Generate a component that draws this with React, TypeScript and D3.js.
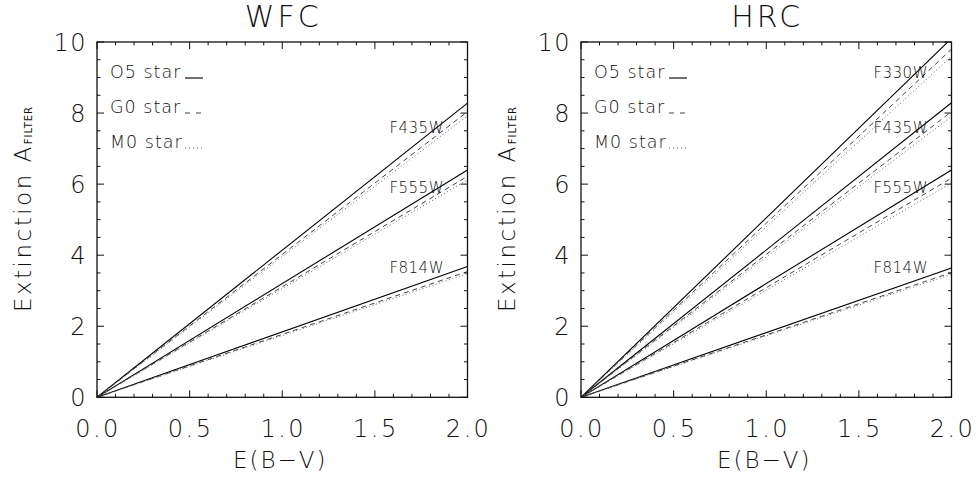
import React from "react";
import * as d3 from "d3";

const ebvRange = [0, 2];
const xTickValues = [0, 0.5, 1.0, 1.5, 2.0];
const yTickValues = [0, 2, 4, 6, 8, 10];

const wfcFilters = ["F435W", "F555W", "F814W"];
const wfcO5 = [8.28, 6.4, 3.68];
const wfcG0 = [8.04, 6.22, 3.54];
const wfcM0 = [7.92, 6.12, 3.48];

const hrcFilters = ["F330W", "F435W", "F555W", "F814W"];
const hrcO5 = [10.1, 8.29, 6.4, 3.64];
const hrcG0 = [9.8, 8.04, 6.17, 3.51];
const hrcM0 = [9.6, 7.9, 6.03, 3.46];

const legendLabels = ["O5 star", "G0 star", "M0 star"];

const FONT = "'DejaVu Sans', sans-serif";
const styles = [
  { stroke: "#000", dash: "none", width: 1.1 },
  { stroke: "#444", dash: "5,4", width: 1 },
  { stroke: "#666", dash: "1,2.5", width: 1 },
];
const labelBaseline = { F330W: 78, F435W: 133, F555W: 193, F814W: 273 };

function Panel({ ox, title, filters, series, id }) {
  const left = ox + 97;
  const right = ox + 467.5;
  const top = 42;
  const bottom = 397.3;
  const x = d3.scaleLinear().domain(ebvRange).range([left, right]);
  const y = d3.scaleLinear().domain([0, 10]).range([bottom, top]);
  const line = d3
    .line()
    .x((d) => x(d[0]))
    .y((d) => y(d[1]));
  const xMinor = d3.range(0, 2.0001, 0.1).filter((v) => Math.abs(v * 2 - Math.round(v * 2)) > 1e-6);
  const yMinor = d3.range(0, 10.0001, 0.5).filter((v) => Math.abs(v / 2 - Math.round(v / 2)) > 1e-6);
  const major = 7;
  const minor = 3.5;
  const axisColor = "#111";
  return (
    <g>
      <defs>
        <clipPath id={id}>
          <rect x={left} y={top} width={right - left} height={bottom - top} />
        </clipPath>
      </defs>
      <text x={(left + right) / 2 + 1} y={27} textAnchor="middle" fontFamily={FONT} fontSize={30} fontWeight={200} letterSpacing={3} fill="#111">
        {title}
      </text>
      <g clipPath={`url(#${id})`}>
        {filters.map((f, i) =>
          series.map((s, k) => (
            <path
              key={f + k}
              d={line([
                [ebvRange[0], 0],
                [ebvRange[1], s[i]],
              ])}
              fill="none"
              stroke={styles[k].stroke}
              strokeWidth={styles[k].width}
              strokeDasharray={styles[k].dash}
            />
          ))
        )}
      </g>
      {filters.map((f) => (
        <text
          key={f}
          x={right - 23.5}
          y={labelBaseline[f]}
          textAnchor="end"
          fontFamily={FONT}
          fontSize={15}
          fontWeight={300}
          letterSpacing={0.5}
          fill="#111"
        >
          {f}
        </text>
      ))}
      {legendLabels.map((l, k) => {
        const by = 78 + k * 35;
        return (
          <g key={l}>
            <text x={left + 13} y={by} fontFamily={FONT} fontSize={17.5} fontWeight={300} letterSpacing={1} fill="#111">
              {l}
            </text>
            <line
              x1={left + 88}
              x2={left + 106}
              y1={by}
              y2={by}
              stroke={styles[k].stroke}
              strokeWidth={styles[k].width}
              strokeDasharray={k === 1 ? "5,6" : k === 2 ? "1,3" : "none"}
            />
          </g>
        );
      })}
      <rect x={left} y={top} width={right - left} height={bottom - top} fill="none" stroke={axisColor} strokeWidth={1.3} />
      {xTickValues.map((v) => (
        <g key={"xt" + v}>
          <line x1={x(v)} x2={x(v)} y1={bottom} y2={bottom - major} stroke={axisColor} />
          <line x1={x(v)} x2={x(v)} y1={top} y2={top + major} stroke={axisColor} />
          <text x={x(v) + 1} y={436.5} textAnchor="middle" fontFamily={FONT} fontSize={24} fontWeight={200} letterSpacing={2.5} fill="#111">
            {v.toFixed(1)}
          </text>
        </g>
      ))}
      {xMinor.map((v) => (
        <g key={"xm" + v}>
          <line x1={x(v)} x2={x(v)} y1={bottom} y2={bottom - minor} stroke={axisColor} />
          <line x1={x(v)} x2={x(v)} y1={top} y2={top + minor} stroke={axisColor} />
        </g>
      ))}
      {yTickValues.map((v) => (
        <g key={"yt" + v}>
          <line x1={left} x2={left + major} y1={y(v)} y2={y(v)} stroke={axisColor} />
          <line x1={right} x2={right - major} y1={y(v)} y2={y(v)} stroke={axisColor} />
          <text x={left - 10} y={y(v) + 8.5} textAnchor="end" fontFamily={FONT} fontSize={24} fontWeight={200} letterSpacing={1.5} fill="#111">
            {v}
          </text>
        </g>
      ))}
      {yMinor.map((v) => (
        <g key={"ym" + v}>
          <line x1={left} x2={left + minor} y1={y(v)} y2={y(v)} stroke={axisColor} />
          <line x1={right} x2={right - minor} y1={y(v)} y2={y(v)} stroke={axisColor} />
        </g>
      ))}
      <text x={(left + right) / 2 - 2} y={468} textAnchor="middle" fontFamily={FONT} fontSize={23} fontWeight={200} letterSpacing={2} fill="#111">
        E(B−V)
      </text>
      <text
        transform={`translate(${ox + 31},${209}) rotate(-90)`}
        textAnchor="middle"
        fontFamily={FONT}
        fontSize={23}
        fontWeight={200}
        letterSpacing={2.5}
        fill="#111"
      >
        Extinction A
        <tspan fontSize={10} fontWeight={400} letterSpacing={1} dy={1}>
          FILTER
        </tspan>
      </text>
    </g>
  );
}

export default function App() {
  return (
    <svg width={976} height={482} style={{ position: "absolute", left: 0, top: 0, background: "#fff" }}>
      <rect width={976} height={482} fill="#fff" />
      <Panel ox={0} title="WFC" filters={wfcFilters} series={[wfcO5, wfcG0, wfcM0]} id="clipWfc" />
      <Panel ox={484} title="HRC" filters={hrcFilters} series={[hrcO5, hrcG0, hrcM0]} id="clipHrc" />
    </svg>
  );
}
